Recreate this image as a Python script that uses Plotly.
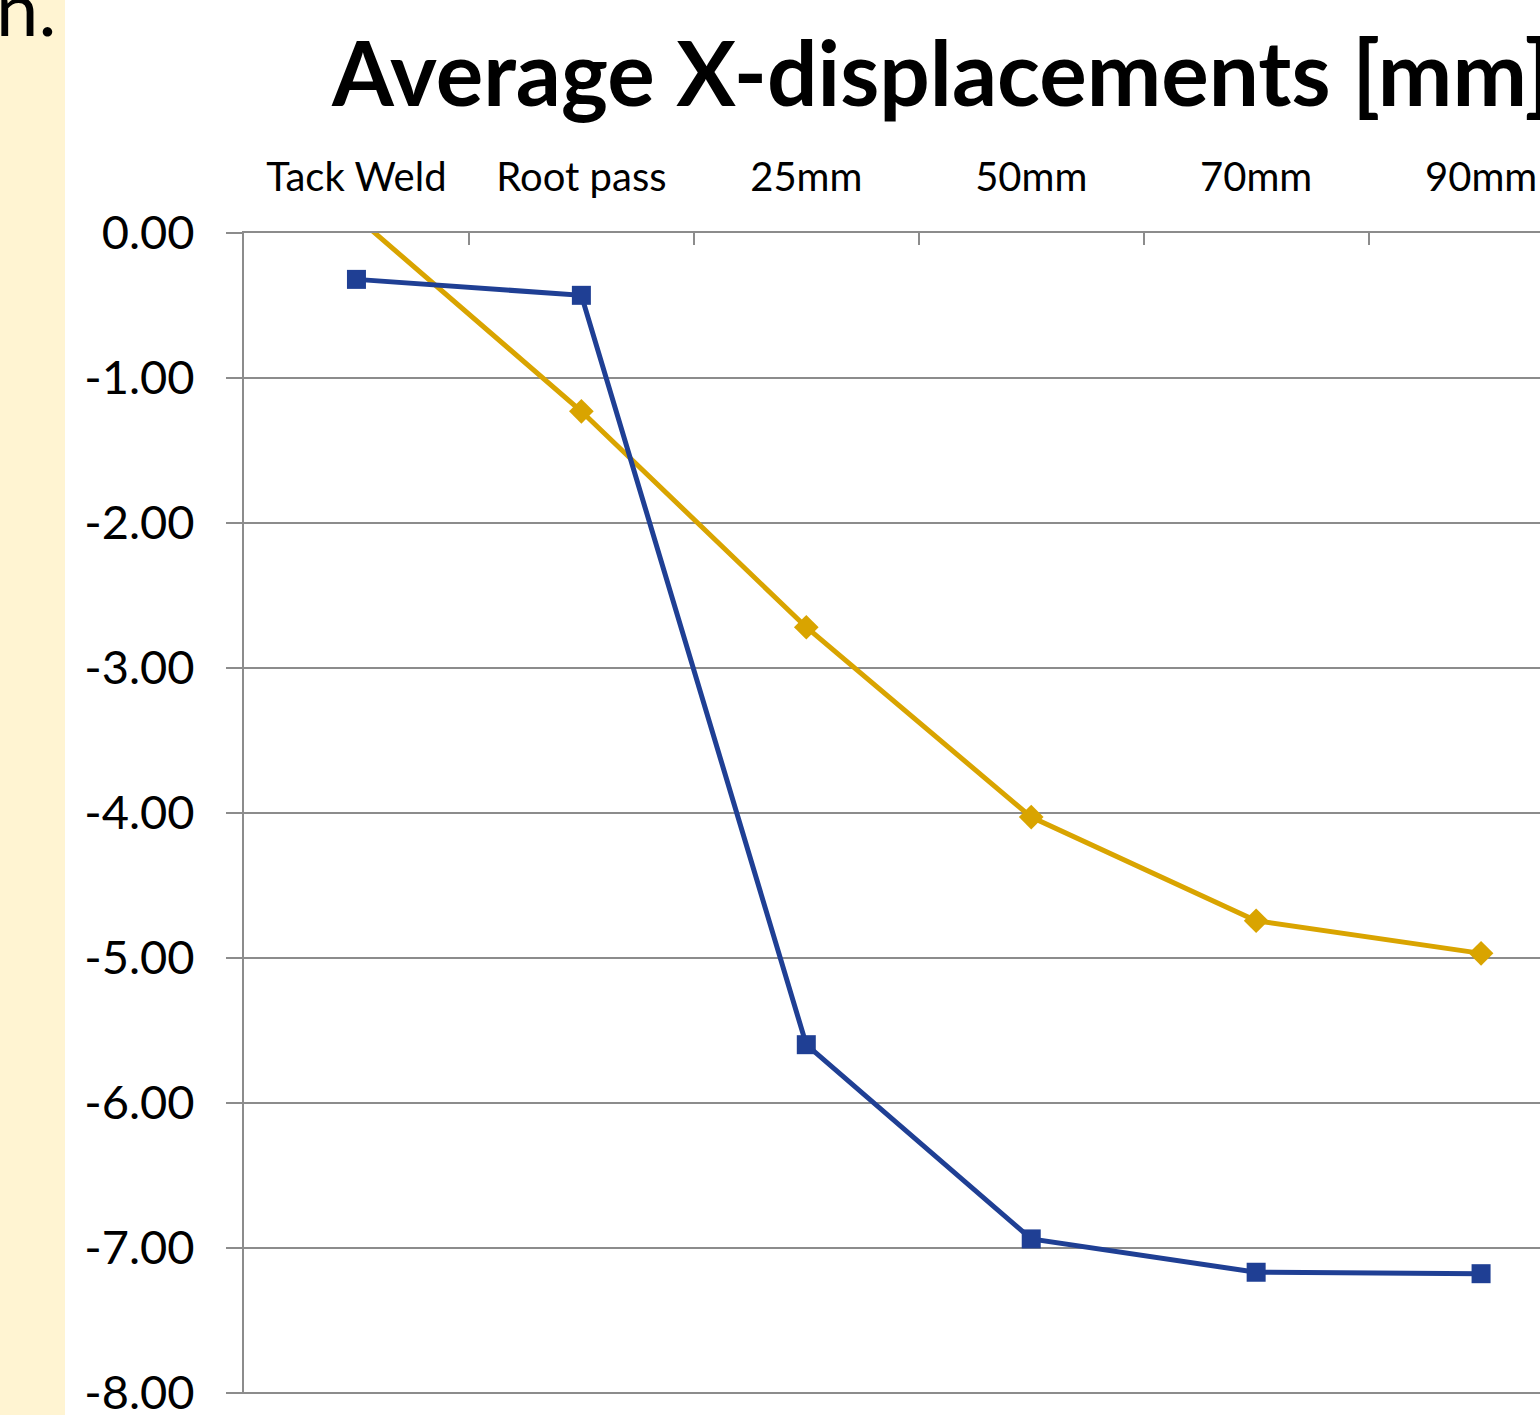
import plotly.graph_objects as go

categories = ["Tack Weld", "Root pass", "25mm", "50mm", "70mm", "90mm"]
series_blue = [-0.32, -0.43, -5.60, -6.94, -7.17, -7.18]
series_orange = [0.11, -1.23, -2.72, -4.03, -4.745, -4.97]
y_tick_values = [0, -1, -2, -3, -4, -5, -6, -7, -8]
y_tick_labels = ["%.2f" % v for v in y_tick_values]

W, H = 1540, 1415
L, R, T, B = 244, 0, 233, 21

fig = go.Figure()
fig.add_trace(go.Scatter(
    x=categories, y=series_orange, mode="lines+markers",
    line=dict(color="#D9A400", width=5),
    marker=dict(symbol="diamond", size=19, color="#D9A400"),
    showlegend=False,
))
fig.add_trace(go.Scatter(
    x=categories, y=series_blue, mode="lines+markers",
    line=dict(color="#1F3F94", width=5),
    marker=dict(symbol="square", size=19, color="#1F3F94"),
    showlegend=False,
))

grid = "#8C8C8C"
PW = W - L - R
PH = H - T - B
fig.update_layout(
    width=W, height=H,
    margin=dict(l=L, r=R, t=T, b=B, pad=0, autoexpand=False),
    paper_bgcolor="white", plot_bgcolor="white",
    font=dict(family="Lato", color="black"),
    xaxis=dict(
        type="category", side="top", range=[-0.5, 5.262], automargin=False,
        tickson="boundaries", ticks="inside", ticklen=12, tickwidth=2, tickcolor=grid,
        showline=True, linecolor=grid, linewidth=2,
        showgrid=False, zeroline=False,
        tickfont=dict(family="Lato", size=40, color="black"),
        ticklabelstandoff=24,
    ),
    yaxis=dict(
        range=[-8.01, 0], tickvals=y_tick_values, ticktext=y_tick_labels, automargin=False,
        ticks="outside", ticklen=16, tickwidth=2, tickcolor=grid,
        showline=True, linecolor=grid, linewidth=2,
        showgrid=True, gridcolor=grid, gridwidth=2, zeroline=False,
        tickfont=dict(family="Lato", size=47, color="black"),
        ticklabelstandoff=22, ticklabeloverflow="allow",
    ),
    shapes=[dict(type="rect", xref="paper", yref="paper",
                 x0=-L / PW, x1=(65 - L) / PW, y0=-1, y1=2,
                 fillcolor="#FFF4D2", line=dict(width=0), layer="below")],
    annotations=[
        dict(text="<b>Average X-displacements [mm]</b>", xref="paper", yref="paper",
             x=(329 - L) / PW, y=1 + (233 - 127) / PH,
             xanchor="left", yanchor="bottom", showarrow=False,
             font=dict(family="Lato", size=89, color="black")),
        dict(text="n.", xref="paper", yref="paper",
             x=(-L + 58) / PW, y=1 + (233 - 54) / PH,
             xanchor="right", yanchor="bottom", showarrow=False,
             font=dict(family="Lato", size=76, color="black")),
    ],
)

fig.write_html("out.html", config={"displayModeBar": False},
               post_script="document.body.style.margin='0';document.body.style.overflow='hidden';")
